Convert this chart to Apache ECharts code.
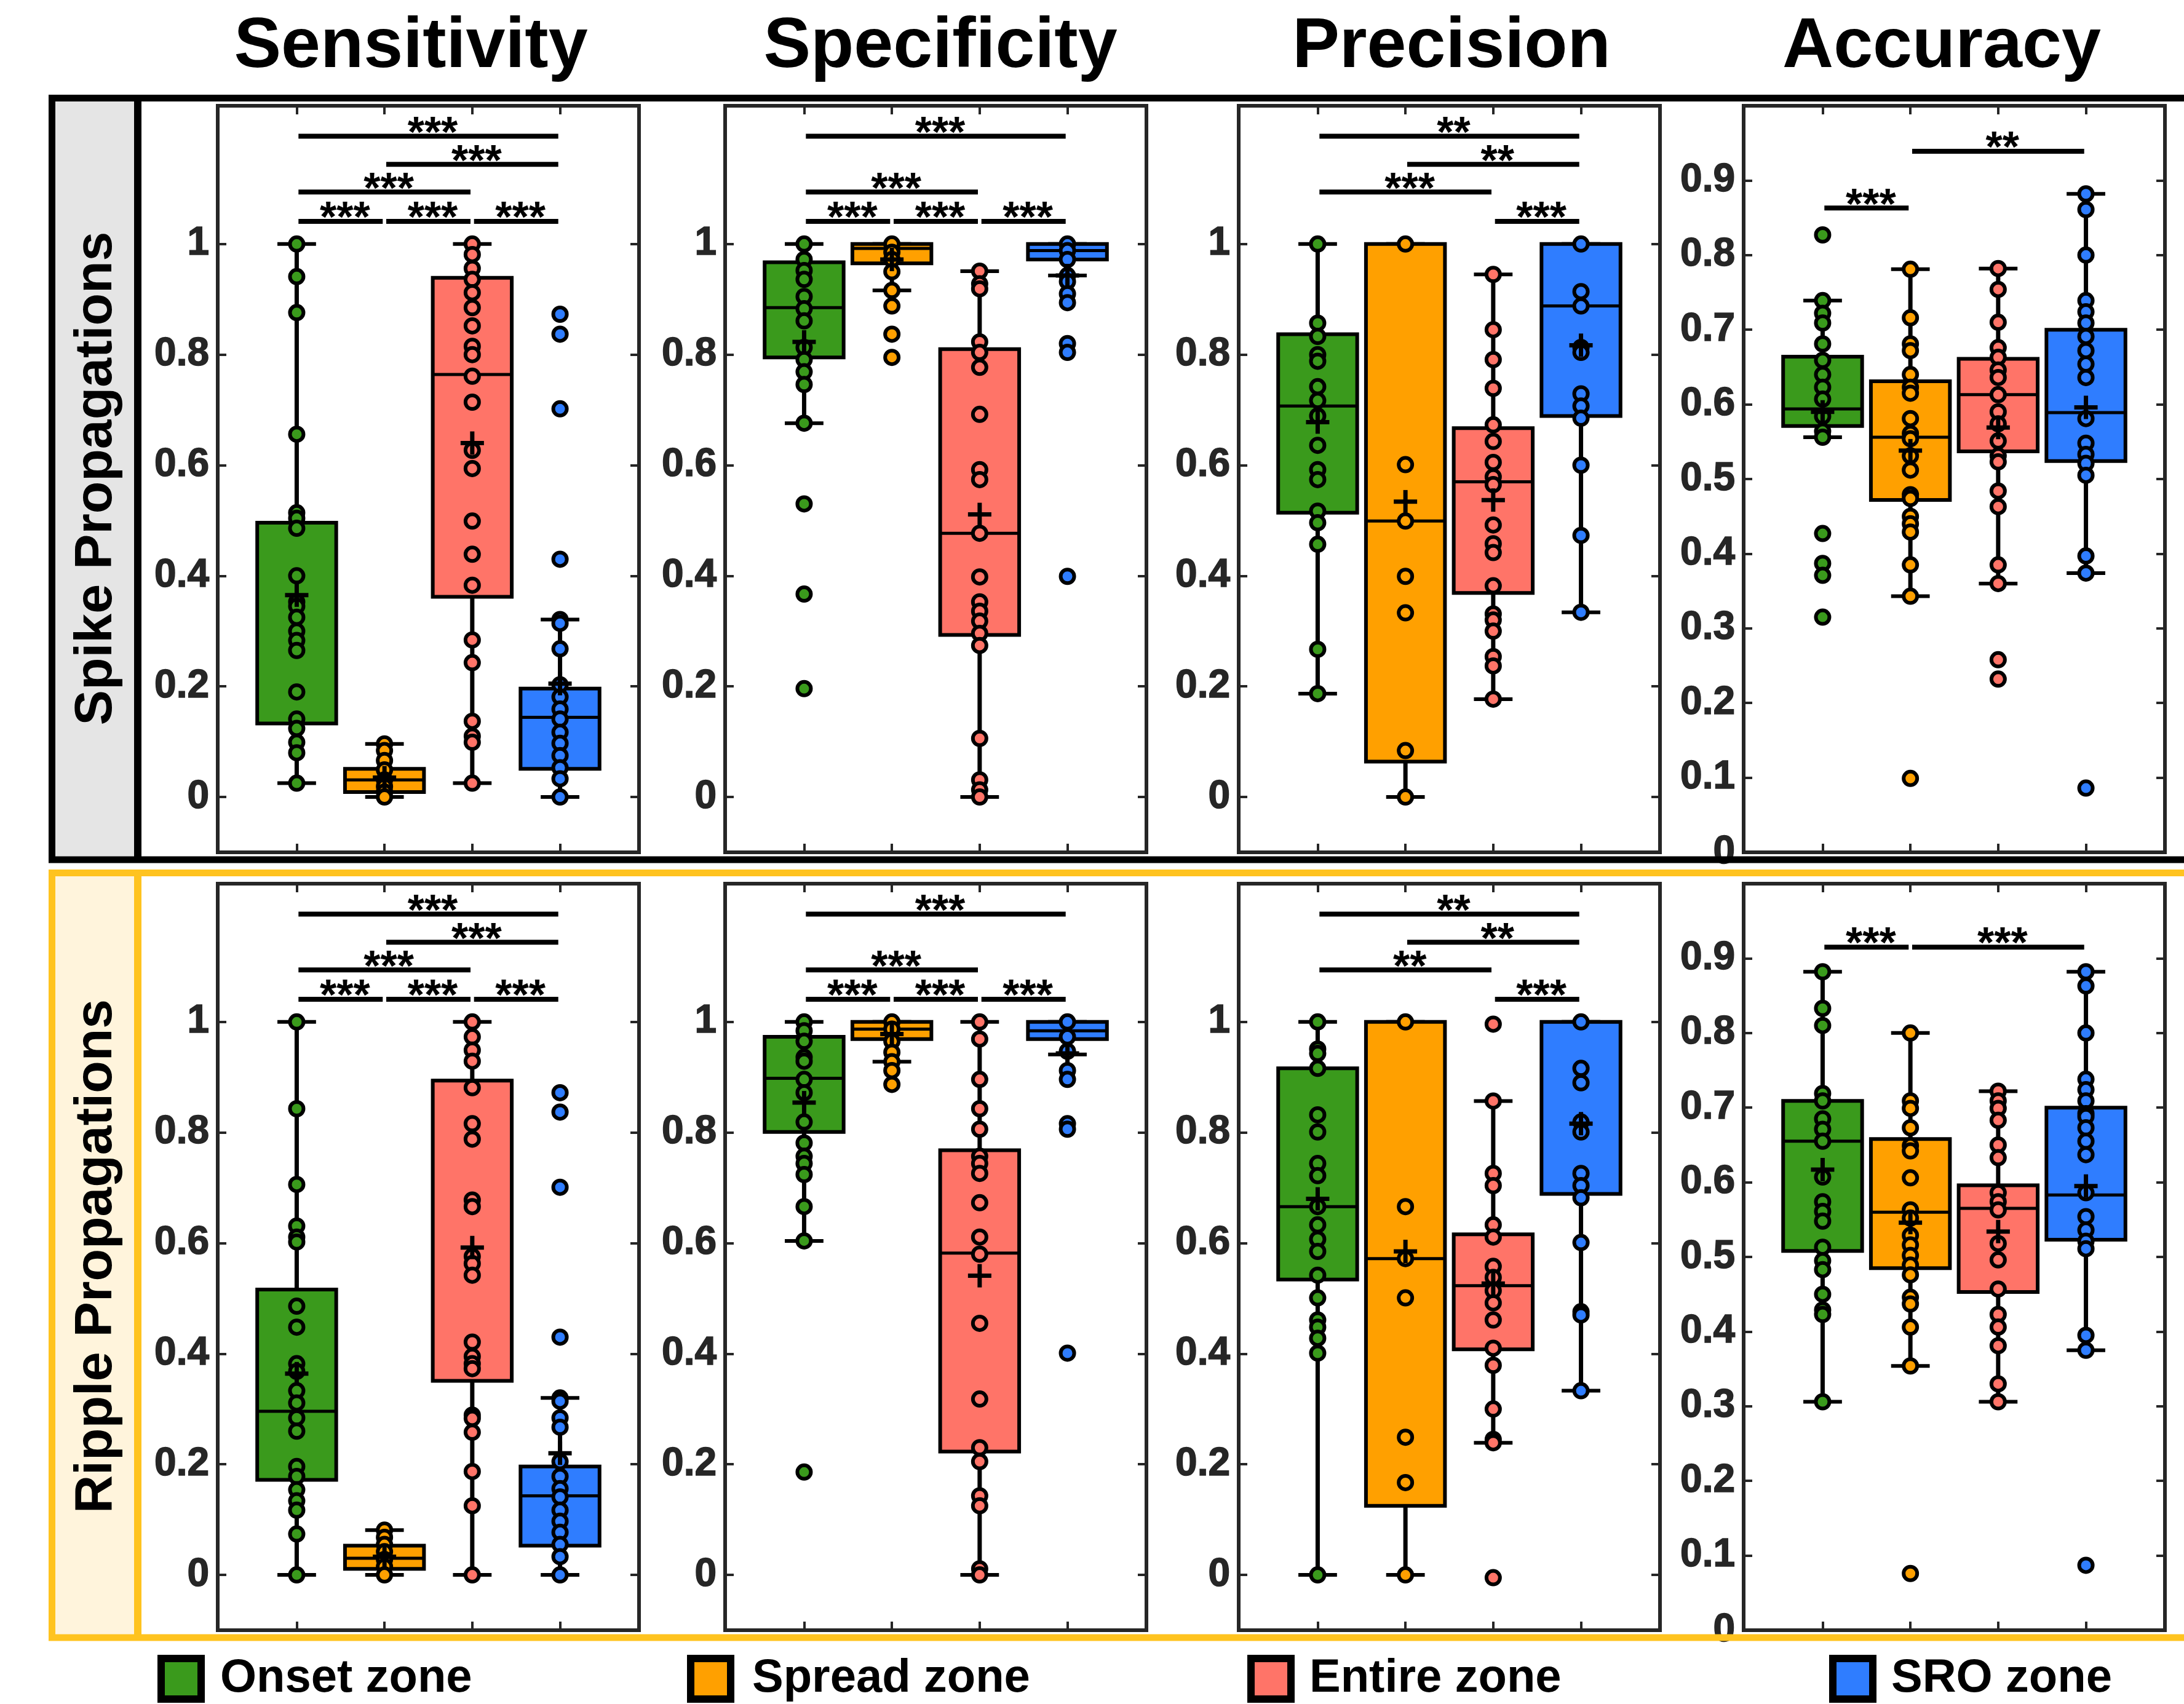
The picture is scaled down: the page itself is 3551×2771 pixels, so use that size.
<!DOCTYPE html>
<html>
<head>
<meta charset="utf-8">
<script src="https://cdn.jsdelivr.net/npm/echarts@6/dist/echarts.min.js"></script>
<style>
  html, body { margin: 0; padding: 0; background: #ffffff; }
  #chart { width: 3551px; height: 2771px; }
</style>
</head>
<body>
<div id="chart"></div>
<script>
// ---- labels ----
const metrics = ['Sensitivity', 'Specificity', 'Precision', 'Accuracy'];
const rowNames = ['Spike Propagations', 'Ripple Propagations'];
const zones = ['Onset zone', 'Spread zone', 'Entire zone', 'SRO zone'];
const zonePos = [1, 2, 3, 4];
const unitTicks = [0, 0.2, 0.4, 0.6, 0.8, 1];
const accTicks = [0, 0.1, 0.2, 0.3, 0.4, 0.5, 0.6, 0.7, 0.8, 0.9];

// ---- Spike propagations : Sensitivity ----
const spikeSensPts = [
  [1.0, 0.941, 0.876, 0.656, 0.514, 0.504, 0.486, 0.400, 0.353, 0.345, 0.325, 0.300, 0.283, 0.265, 0.190, 0.141, 0.124, 0.099, 0.080, 0.025],
  [0.096, 0.084, 0.066, 0.049, 0.031, 0.019, 0.009, 0.0],
  [1.0, 0.981, 0.956, 0.936, 0.912, 0.885, 0.852, 0.815, 0.800, 0.761, 0.714, 0.627, 0.594, 0.499, 0.439, 0.383, 0.284, 0.243, 0.137, 0.110, 0.099, 0.025],
  [0.873, 0.837, 0.702, 0.430, 0.321, 0.314, 0.268, 0.203, 0.181, 0.159, 0.141, 0.117, 0.097, 0.075, 0.053, 0.033, 0.0]
];
// [lower whisker, Q1, median, Q3, upper whisker]
const spikeSensBox = [
  [0.025, 0.133, 0.496, 0.496, 1.0],
  [0.0, 0.009, 0.031, 0.051, 0.096],
  [0.025, 0.362, 0.764, 0.939, 1.0],
  [0.0, 0.051, 0.144, 0.196, 0.321]
];
const spikeSensMean = [0.365, 0.035, 0.640, 0.205];
const spikeSensSig = [[1, 4, 1.195, '***'], [2, 4, 1.144, '***'], [1, 3, 1.094, '***'], [1, 2, 1.041, '***'], [2, 3, 1.041, '***'], [3, 4, 1.041, '***']];

// ---- Spike propagations : Specificity ----
const spikeSpecPts = [
  [1.0, 0.972, 0.952, 0.936, 0.905, 0.883, 0.861, 0.813, 0.791, 0.769, 0.746, 0.676, 0.530, 0.367, 0.196],
  [1.0, 0.985, 0.972, 0.950, 0.916, 0.888, 0.837, 0.795],
  [0.951, 0.928, 0.919, 0.823, 0.804, 0.777, 0.692, 0.592, 0.574, 0.477, 0.398, 0.353, 0.336, 0.318, 0.296, 0.274, 0.106, 0.031, 0.013, 0.0],
  [1.0, 0.988, 0.972, 0.943, 0.932, 0.910, 0.894, 0.820, 0.804, 0.399]
];
const spikeSpecBox = [
  [0.676, 0.795, 0.885, 0.967, 1.0],
  [0.916, 0.965, 0.992, 1.0, 1.0],
  [0.0, 0.293, 0.477, 0.810, 0.951],
  [0.943, 0.972, 0.988, 1.0, 1.0]
];
const spikeSpecMean = [0.823, 0.972, 0.511, 0.943];
const spikeSpecSig = [[1, 4, 1.195, '***'], [1, 3, 1.094, '***'], [1, 2, 1.041, '***'], [2, 3, 1.041, '***'], [3, 4, 1.041, '***']];

// ---- Spike propagations : Precision ----
const spikePrecPts = [
  [1.0, 0.857, 0.833, 0.800, 0.788, 0.742, 0.717, 0.689, 0.636, 0.592, 0.574, 0.517, 0.496, 0.457, 0.267, 0.187],
  [1.0, 0.601, 0.499, 0.399, 0.333, 0.084, 0.0],
  [0.945, 0.845, 0.791, 0.739, 0.673, 0.643, 0.605, 0.579, 0.565, 0.492, 0.458, 0.442, 0.382, 0.331, 0.320, 0.300, 0.254, 0.237, 0.177],
  [1.0, 0.914, 0.888, 0.813, 0.804, 0.729, 0.707, 0.685, 0.600, 0.473, 0.334]
];
const spikePrecBox = [
  [0.187, 0.514, 0.707, 0.837, 1.0],
  [0.0, 0.064, 0.499, 1.0, 1.0],
  [0.177, 0.369, 0.570, 0.667, 0.945],
  [0.334, 0.689, 0.888, 1.0, 1.0]
];
const spikePrecMean = [0.678, 0.534, 0.537, 0.817];
const spikePrecSig = [[1, 4, 1.195, '**'], [2, 4, 1.144, '**'], [1, 3, 1.094, '***'], [3, 4, 1.041, '***']];

// ---- Spike propagations : Accuracy ----
const spikeAccPts = [
  [0.827, 0.739, 0.722, 0.709, 0.681, 0.659, 0.640, 0.623, 0.607, 0.584, 0.564, 0.556, 0.427, 0.387, 0.371, 0.315],
  [0.781, 0.716, 0.681, 0.672, 0.640, 0.623, 0.615, 0.581, 0.561, 0.554, 0.531, 0.512, 0.479, 0.474, 0.450, 0.440, 0.429, 0.385, 0.343, 0.099],
  [0.782, 0.754, 0.710, 0.676, 0.663, 0.646, 0.636, 0.613, 0.590, 0.574, 0.551, 0.531, 0.523, 0.484, 0.463, 0.385, 0.360, 0.258, 0.232],
  [0.882, 0.861, 0.800, 0.739, 0.724, 0.709, 0.691, 0.672, 0.654, 0.636, 0.581, 0.548, 0.533, 0.521, 0.505, 0.397, 0.374, 0.086]
];
const spikeAccBox = [
  [0.556, 0.571, 0.594, 0.664, 0.739],
  [0.343, 0.472, 0.556, 0.631, 0.781],
  [0.360, 0.537, 0.613, 0.661, 0.782],
  [0.374, 0.524, 0.589, 0.700, 0.882]
];
const spikeAccMean = [0.590, 0.538, 0.569, 0.596];
const spikeAccSig = [[1, 2, 0.863, '***'], [2, 4, 0.939, '**']];

// ---- Ripple propagations : Sensitivity ----
const rippleSensPts = [
  [1.0, 0.843, 0.706, 0.631, 0.611, 0.602, 0.486, 0.448, 0.382, 0.368, 0.333, 0.311, 0.284, 0.260, 0.196, 0.178, 0.154, 0.134, 0.117, 0.074, 0.0],
  [0.081, 0.068, 0.055, 0.042, 0.028, 0.015, 0.0],
  [1.0, 0.973, 0.949, 0.929, 0.881, 0.816, 0.788, 0.678, 0.666, 0.576, 0.563, 0.542, 0.421, 0.395, 0.382, 0.373, 0.289, 0.283, 0.258, 0.187, 0.125, 0.0],
  [0.872, 0.837, 0.701, 0.430, 0.320, 0.314, 0.284, 0.267, 0.205, 0.178, 0.156, 0.141, 0.117, 0.097, 0.077, 0.055, 0.033, 0.0]
];
const rippleSensBox = [
  [0.0, 0.172, 0.296, 0.516, 1.0],
  [0.0, 0.011, 0.030, 0.053, 0.081],
  [0.0, 0.351, 0.894, 0.894, 1.0],
  [0.0, 0.053, 0.143, 0.196, 0.320]
];
const rippleSensMean = [0.364, 0.033, 0.592, 0.220];
const rippleSensSig = [[1, 4, 1.195, '***'], [2, 4, 1.144, '***'], [1, 3, 1.094, '***'], [1, 2, 1.041, '***'], [2, 3, 1.041, '***'], [3, 4, 1.041, '***']];

// ---- Ripple propagations : Specificity ----
const rippleSpecPts = [
  [1.0, 0.984, 0.965, 0.936, 0.929, 0.896, 0.872, 0.819, 0.781, 0.757, 0.744, 0.724, 0.666, 0.604, 0.186],
  [1.0, 0.987, 0.965, 0.945, 0.928, 0.912, 0.887],
  [1.0, 0.969, 0.896, 0.843, 0.806, 0.757, 0.744, 0.726, 0.673, 0.611, 0.580, 0.455, 0.318, 0.230, 0.205, 0.143, 0.125, 0.011, 0.0],
  [1.0, 0.973, 0.947, 0.912, 0.896, 0.816, 0.806, 0.401]
];
const rippleSpecBox = [
  [0.604, 0.801, 0.898, 0.973, 1.0],
  [0.928, 0.969, 0.987, 1.0, 1.0],
  [0.0, 0.223, 0.582, 0.768, 1.0],
  [0.941, 0.969, 0.984, 1.0, 1.0]
];
const rippleSpecMean = [0.854, 0.978, 0.541, 0.943];
const rippleSpecSig = [[1, 4, 1.195, '***'], [1, 3, 1.094, '***'], [1, 2, 1.041, '***'], [2, 3, 1.041, '***'], [3, 4, 1.041, '***']];

// ---- Ripple propagations : Precision ----
const ripplePrecPts = [
  [1.0, 0.951, 0.943, 0.916, 0.832, 0.801, 0.744, 0.722, 0.666, 0.633, 0.607, 0.585, 0.542, 0.501, 0.461, 0.448, 0.428, 0.401, 0.0],
  [1.0, 0.666, 0.572, 0.501, 0.249, 0.167, 0.0],
  [0.996, 0.857, 0.726, 0.704, 0.633, 0.611, 0.558, 0.538, 0.514, 0.492, 0.461, 0.410, 0.379, 0.300, 0.245, 0.239, -0.005],
  [1.0, 0.916, 0.890, 0.819, 0.801, 0.726, 0.704, 0.682, 0.601, 0.476, 0.470, 0.333]
];
const ripplePrecBox = [
  [0.0, 0.534, 0.666, 0.916, 1.0],
  [0.0, 0.125, 0.572, 1.0, 1.0],
  [0.239, 0.408, 0.523, 0.616, 0.857],
  [0.333, 0.689, 1.0, 1.0, 1.0]
];
const ripplePrecMean = [0.680, 0.585, 0.527, 0.816];
const ripplePrecSig = [[1, 4, 1.195, '**'], [2, 4, 1.144, '**'], [1, 3, 1.094, '**'], [3, 4, 1.041, '***']];

// ---- Ripple propagations : Accuracy ----
const rippleAccPts = [
  [0.882, 0.833, 0.810, 0.719, 0.709, 0.685, 0.671, 0.655, 0.607, 0.574, 0.561, 0.548, 0.513, 0.495, 0.483, 0.450, 0.429, 0.423, 0.306],
  [0.800, 0.709, 0.699, 0.673, 0.649, 0.642, 0.606, 0.563, 0.552, 0.529, 0.516, 0.502, 0.489, 0.476, 0.446, 0.437, 0.406, 0.354, 0.076],
  [0.722, 0.709, 0.699, 0.683, 0.650, 0.633, 0.586, 0.574, 0.563, 0.518, 0.496, 0.457, 0.423, 0.406, 0.381, 0.330, 0.306],
  [0.882, 0.863, 0.800, 0.738, 0.724, 0.709, 0.692, 0.688, 0.673, 0.655, 0.637, 0.586, 0.554, 0.536, 0.521, 0.511, 0.395, 0.375, 0.087]
];
const rippleAccBox = [
  [0.306, 0.508, 0.655, 0.709, 0.882],
  [0.354, 0.485, 0.560, 0.658, 0.800],
  [0.306, 0.453, 0.565, 0.596, 0.722],
  [0.375, 0.523, 0.583, 0.700, 0.882]
];
const rippleAccMean = [0.617, 0.546, 0.534, 0.595];
const rippleAccSig = [[1, 2, 0.915, '***'], [2, 4, 0.915, '***']];

// ---- styling ----
const zoneColors = ['#3A9A1C', '#FFA000', '#FF7468', '#2F7DFF'];
const FONT = '"Liberation Sans", Arial, Helvetica, sans-serif';
const AXIS_INK = '#262626';

// panel geometry (pixels)
const PANEL_LEFT = [354, 1179, 2014, 2835];
const PANEL_TOP = [172, 1437];
const PANEL_W = 685;
const PANEL_H = 1214;

const panels = [
  { pts: spikeSensPts, box: spikeSensBox, mean: spikeSensMean, sig: spikeSensSig },
  { pts: spikeSpecPts, box: spikeSpecBox, mean: spikeSpecMean, sig: spikeSpecSig },
  { pts: spikePrecPts, box: spikePrecBox, mean: spikePrecMean, sig: spikePrecSig },
  { pts: spikeAccPts, box: spikeAccBox, mean: spikeAccMean, sig: spikeAccSig },
  { pts: rippleSensPts, box: rippleSensBox, mean: rippleSensMean, sig: rippleSensSig },
  { pts: rippleSpecPts, box: rippleSpecBox, mean: rippleSpecMean, sig: rippleSpecSig },
  { pts: ripplePrecPts, box: ripplePrecBox, mean: ripplePrecMean, sig: ripplePrecSig },
  { pts: rippleAccPts, box: rippleAccBox, mean: rippleAccMean, sig: rippleAccSig }
];

// box + whiskers for one zone: [x, lo, q1, med, q3, hi, colorIndex]
function renderBox(params, api) {
  const x = api.value(0);
  const fill = zoneColors[api.value(6)];
  const half = api.size([0.45, 0])[0];
  const cap = api.size([0.22, 0])[0];
  const pLo = api.coord([x, api.value(1)]);
  const cx = pLo[0];
  const yLo = pLo[1];
  const yQ1 = api.coord([x, api.value(2)])[1];
  const yMed = api.coord([x, api.value(3)])[1];
  const yQ3 = api.coord([x, api.value(4)])[1];
  const yHi = api.coord([x, api.value(5)])[1];
  const stem = { stroke: '#000', lineWidth: 7 };
  const capStyle = { stroke: '#000', lineWidth: 6 };
  return {
    type: 'group',
    children: [
      { type: 'line', shape: { x1: cx, y1: yHi, x2: cx, y2: yQ3 }, style: stem },
      { type: 'line', shape: { x1: cx, y1: yQ1, x2: cx, y2: yLo }, style: stem },
      { type: 'line', shape: { x1: cx - cap, y1: yHi, x2: cx + cap, y2: yHi }, style: capStyle },
      { type: 'line', shape: { x1: cx - cap, y1: yLo, x2: cx + cap, y2: yLo }, style: capStyle },
      { type: 'rect', shape: { x: cx - half, y: yQ3, width: 2 * half, height: yQ1 - yQ3 },
        style: { fill: fill, stroke: '#000', lineWidth: 6 } },
      { type: 'line', shape: { x1: cx - half, y1: yMed, x2: cx + half, y2: yMed }, style: { stroke: '#000', lineWidth: 5 } }
    ]
  };
}

// mean marker: a bold plus sign
function renderMean(params, api) {
  const p = api.coord([api.value(0), api.value(1)]);
  const r = 19;
  const st = { stroke: '#000', lineWidth: 7 };
  return {
    type: 'group',
    children: [
      { type: 'line', shape: { x1: p[0] - r, y1: p[1], x2: p[0] + r, y2: p[1] }, style: st },
      { type: 'line', shape: { x1: p[0], y1: p[1] - r, x2: p[0], y2: p[1] + r }, style: st }
    ]
  };
}

// significance bracket with star label
function makeSigRenderer(sig) {
  return function (params, api) {
    const s = sig[params.dataIndex];
    const a = api.coord([s[0] + 0.02, s[2]]);
    const b = api.coord([s[1] - 0.02, s[2]]);
    return {
      type: 'group',
      children: [
        { type: 'line', shape: { x1: a[0], y1: a[1], x2: b[0], y2: b[1] }, style: { stroke: '#000', lineWidth: 8 } },
        { type: 'text', x: (a[0] + b[0]) / 2 + 7, y: a[1] - 2,
          style: { text: s[3], font: 'bold 70px ' + FONT, fill: '#000', align: 'center', verticalAlign: 'middle' } }
      ]
    };
  };
}

const grids = [], xAxes = [], yAxes = [], series = [];

panels.forEach((p, k) => {
  const row = Math.floor(k / 4), col = k % 4;
  const isAcc = col === 3;
  const yMin = isAcc ? 0 : -0.1;
  const yMax = isAcc ? 1 : 1.25;
  const ticks = isAcc ? accTicks : unitTicks;
  grids.push({ left: PANEL_LEFT[col], top: PANEL_TOP[row], width: PANEL_W, height: PANEL_H, outerBoundsMode: 'none' });

  const axisLine = { show: true, onZero: false, lineStyle: { color: AXIS_INK, width: 6, cap: 'square' } };
  const tickStyle = { color: AXIS_INK, width: 4 };

  ['bottom', 'top'].forEach(pos => {
    xAxes.push({
      gridIndex: k, type: 'value', position: pos, min: 0.1, max: 4.9,
      axisLine: axisLine,
      axisTick: { show: true, inside: true, length: 14, customValues: zonePos, lineStyle: tickStyle },
      axisLabel: { show: false },
      splitLine: { show: false }
    });
  });
  ['left', 'right'].forEach(pos => {
    yAxes.push({
      gridIndex: k, type: 'value', position: pos, min: yMin, max: yMax,
      axisLine: axisLine,
      axisTick: { show: true, inside: true, length: 14, customValues: ticks, lineStyle: tickStyle },
      axisLabel: pos === 'left'
        ? { show: true, customValues: ticks, margin: 14, color: AXIS_INK, fontFamily: FONT, fontWeight: 'bold',
            fontSize: 64, textBorderColor: AXIS_INK, textBorderWidth: 1.5 }
        : { show: false },
      splitLine: { show: false }
    });
  });

  const xi = 2 * k, yi = 2 * k;

  series.push({
    type: 'custom', xAxisIndex: xi, yAxisIndex: yi, z: 2, silent: true,
    renderItem: renderBox,
    encode: { x: 0, y: [1, 2, 3, 4, 5] },
    data: p.box.map((b, i) => [zonePos[i], b[0], b[1], b[2], b[3], b[4], i])
  });

  p.pts.forEach((vals, i) => {
    series.push({
      type: 'scatter', xAxisIndex: xi, yAxisIndex: yi, z: 3, silent: true,
      symbol: 'circle', symbolSize: 22,
      itemStyle: { color: zoneColors[i], borderColor: '#000', borderWidth: 6, opacity: 1 },
      data: vals.map(v => [zonePos[i], v])
    });
  });

  series.push({
    type: 'custom', xAxisIndex: xi, yAxisIndex: yi, z: 4, silent: true,
    renderItem: renderMean,
    data: p.mean.map((m, i) => [zonePos[i], m])
  });

  series.push({
    type: 'custom', xAxisIndex: xi, yAxisIndex: yi, z: 4, silent: true,
    renderItem: makeSigRenderer(p.sig),
    data: p.sig.map(s => [s[0], s[1], s[2]])
  });
});

// frames, titles, row labels and legend
const graphics = [];
const titleX = [668, 1529, 2360, 3157];
metrics.forEach((m, i) => {
  graphics.push({ type: 'text', x: titleX[i], y: 77, z: 10,
    style: { text: m, font: 'bold 115px ' + FONT, fill: '#000', align: 'center', verticalAlign: 'middle' } });
});

const frames = [
  { color: '#000000', fill: '#E5E5E5', top: 159.5, bottom: 1398, label: rowNames[0], cy: 778 },
  { color: '#FFC31F', fill: '#FFF4DC', top: 1419.5, bottom: 2663, label: rowNames[1], cy: 2043 }
];
frames.forEach(f => {
  graphics.push({ type: 'rect', z: 0, shape: { x: 90, y: f.top + 5.5, width: 128, height: f.bottom - f.top - 11 },
    style: { fill: f.fill } });
  graphics.push({ type: 'rect', z: 1, shape: { x: 84.5, y: f.top, width: 3600, height: f.bottom - f.top },
    style: { fill: null, stroke: f.color, lineWidth: 11 } });
  graphics.push({ type: 'line', z: 1, shape: { x1: 224, y1: f.top, x2: 224, y2: f.bottom },
    style: { stroke: f.color, lineWidth: 12 } });
  graphics.push({ type: 'text', x: 157, y: f.cy, rotation: Math.PI / 2, z: 10,
    style: { text: f.label, font: 'bold 86px ' + FONT, fill: '#000', align: 'center', verticalAlign: 'middle' } });
});

const legendBoxX = [256, 1117, 2028, 2974];
const legendTextX = [358, 1223, 2129, 3075];
zones.forEach((z, i) => {
  graphics.push({ type: 'rect', z: 10, shape: { x: legendBoxX[i] + 6, y: 2697, width: 65, height: 66 },
    style: { fill: zoneColors[i], stroke: '#000', lineWidth: 12 } });
  graphics.push({ type: 'text', x: legendTextX[i], y: 2730, z: 10,
    style: { text: z, font: 'bold 76px ' + FONT, fill: '#000', align: 'left', verticalAlign: 'middle' } });
});

const chart = echarts.init(document.getElementById('chart'), null, { renderer: 'canvas' });
chart.setOption({
  animation: false,
  backgroundColor: '#ffffff',
  grid: grids,
  xAxis: xAxes,
  yAxis: yAxes,
  series: series,
  graphic: graphics
});
</script>
</body>
</html>
